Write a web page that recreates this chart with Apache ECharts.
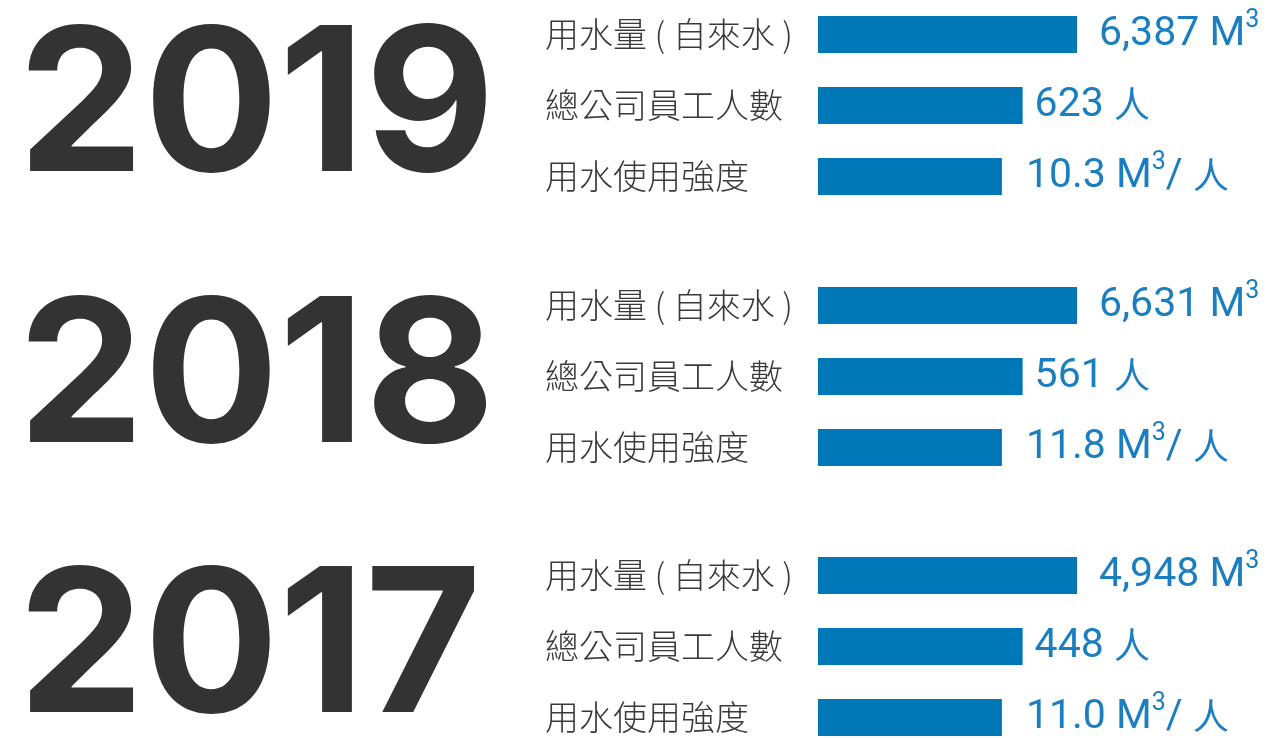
<!DOCTYPE html>
<html>
<head>
<meta charset="utf-8">
<script src="https://cdn.jsdelivr.net/npm/echarts@6/dist/echarts.min.js"></script>
<style>
html,body{margin:0;padding:0;background:#fff;}
#c{width:1267px;height:738px;}
</style>
</head>
<body>
<div id="c"></div>
<script>
// ---- data ----
var years = ['2019', '2018', '2017'];
var metrics = ['用水量 ( 自來水 )', '總公司員工人數', '用水使用強度'];
var waterUse = [6387, 6631, 4948];      // M3
var employees = [623, 561, 448];        // 人
var intensity = [10.3, 11.8, 11.0];     // M3/人
var barLength = [100, 79, 71];          // relative display length of each metric's bar

// ---- styling ----
var gridTops = [-1, 270, 540];
var labelGap = [22, 12, 24];
var barColor = '#0077B7';
var valueColor = '#1B7EC0';
var textColor = '#3a3a3a';

function fmtLabel(yi, mi) {
  if (mi === 0) return '{v|' + waterUse[yi].toLocaleString('en-US') + ' M}{s|3}';
  if (mi === 1) return '{v|' + employees[yi] + ' }{p|人}';
  return '{v|' + intensity[yi].toFixed(1) + ' M}{s|3}{v|/ }{p|人}';
}

var grids = [], xAxes = [], yAxes = [], series = [], graphics = [];
years.forEach(function (yr, yi) {
  grids.push({ left: 818, width: 259, top: gridTops[yi], height: 213, containLabel: false, outerBoundsMode: 'none' });
  xAxes.push({ gridIndex: yi, type: 'value', min: 0, max: 100, show: false });
  yAxes.push({
    gridIndex: yi, type: 'category', inverse: true, data: metrics,
    axisLine: { show: false }, axisTick: { show: false }, splitLine: { show: false },
    axisLabel: {
      align: 'left', margin: 273, color: textColor, fontSize: 34, fontWeight: 300,
      fontFamily: '"Noto Sans CJK TC", "Noto Sans", sans-serif'
    }
  });
  series.push({
    type: 'bar', xAxisIndex: yi, yAxisIndex: yi, barWidth: 37,
    itemStyle: { color: barColor },
    silent: true, animation: false,
    data: barLength.map(function (v, mi) {
      return {
        value: v,
        label: {
          show: true, position: 'right', distance: labelGap[mi],
          formatter: function () { return fmtLabel(yi, mi); },
          rich: {
            v: { fontSize: 41, color: valueColor, fontFamily: 'Roboto, sans-serif', fontWeight: 400, lineHeight: 52 },
            p: { fontSize: 36, color: valueColor, fontFamily: '"Noto Sans CJK TC", sans-serif', fontWeight: 400, lineHeight: 52, padding: [0, 0, 2, 0] },
            s: { fontSize: 25, color: valueColor, fontFamily: 'Roboto, sans-serif', fontWeight: 400, verticalAlign: 'top', lineHeight: 26 }
          }
        }
      };
    })
  });
  graphics.push({
    type: 'text', left: 18, top: gridTops[yi] + 12,
    style: {
      text: yr, fill: '#333333', fontSize: 200, fontWeight: 700,
      fontFamily: 'Inter, "Open Sans", sans-serif'
    }
  });
});

var chart = echarts.init(document.getElementById('c'));
chart.setOption({
  animation: false,
  grid: grids, xAxis: xAxes, yAxis: yAxes, series: series, graphic: graphics
});
</script>
</body>
</html>
